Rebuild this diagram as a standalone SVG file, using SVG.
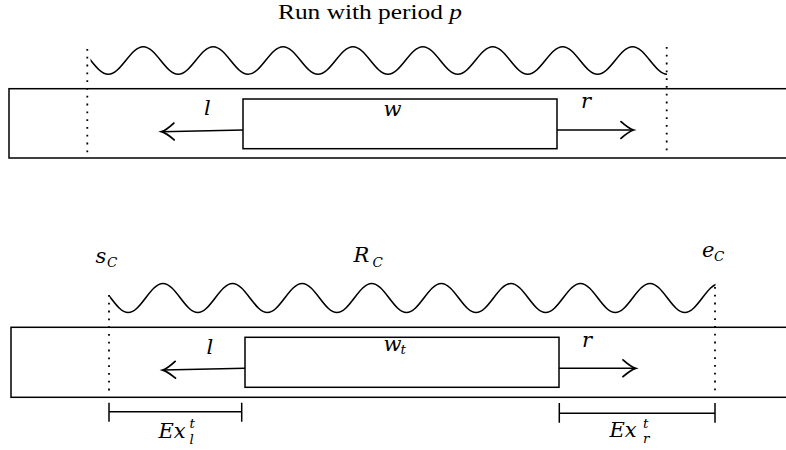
<svg xmlns="http://www.w3.org/2000/svg" width="786" height="450" viewBox="0 0 786 450">
<style>
  .ln{fill:none;stroke:#000;stroke-width:1.5}
  .box{fill:#fff;stroke:#000;stroke-width:1.5}
  .dot{fill:none;stroke:#000;stroke-width:1.8;stroke-dasharray:1.8 6}
  .wave{fill:none;stroke:#000;stroke-width:1.6}
  text{font-family:'Liberation Serif','DejaVu Serif','Times New Roman',serif;fill:#000}
  .t{font-size:20px}
  .m{font-family:'DejaVu Serif','Liberation Serif',serif;font-size:21px;font-style:italic}
  .s{font-family:'DejaVu Serif','Liberation Serif',serif;font-size:13.5px;font-style:italic}
</style>
<defs>
  <marker id="to" markerUnits="userSpaceOnUse" markerWidth="24" markerHeight="24" refX="0" refY="0" viewBox="-14 -10 16 20" orient="auto" overflow="visible">
    <path d="M -10 -7 Q -3.5 -1.2 0.5 0 Q -3.5 1.2 -10 7" fill="none" stroke="#000" stroke-width="1.5" stroke-linecap="round"/>
  </marker>
  <clipPath id="c1"><rect x="90.5" y="30" width="576.5" height="60"/></clipPath>
  <clipPath id="c2"><rect x="109.5" y="270" width="606" height="60"/></clipPath>
</defs>
<rect width="786" height="450" fill="#fff"/>

<text class="t" x="278" y="19" textLength="184" lengthAdjust="spacingAndGlyphs">Run with period <tspan font-style="italic">p</tspan></text>

<g id="top-strip">
  <rect class="box" x="9" y="88.7" width="800" height="69.3"/>
</g>
<g id="top-window">
  <rect class="box" x="243" y="99" width="314" height="49.7"/>
  <text class="m" x="383.5" y="116">w</text>
</g>
<g id="top-run">
  <path class="wave" clip-path="url(#c1)" d="M 73.35 46.7 c 12.7 0 22.25 27.6 34.95 27.6 c 12.7 0 22.25 -27.6 34.95 -27.6 c 12.7 0 22.25 27.6 34.95 27.6 c 12.7 0 22.25 -27.6 34.95 -27.6 c 12.7 0 22.25 27.6 34.95 27.6 c 12.7 0 22.25 -27.6 34.95 -27.6 c 12.7 0 22.25 27.6 34.95 27.6 c 12.7 0 22.25 -27.6 34.95 -27.6 c 12.7 0 22.25 27.6 34.95 27.6 c 12.7 0 22.25 -27.6 34.95 -27.6 c 12.7 0 22.25 27.6 34.95 27.6 c 12.7 0 22.25 -27.6 34.95 -27.6 c 12.7 0 22.25 27.6 34.95 27.6 c 12.7 0 22.25 -27.6 34.95 -27.6 c 12.7 0 22.25 27.6 34.95 27.6 c 12.7 0 22.25 -27.6 34.95 -27.6 c 12.7 0 22.25 27.6 34.95 27.6 c 12.7 0 22.25 -27.6 34.95 -27.6"/>
  <line class="dot" x1="87.3" y1="49" x2="87.3" y2="156"/>
  <line class="dot" x1="666.7" y1="47" x2="666.7" y2="154"/>
</g>

<g id="bottom-strip">
  <rect class="box" x="11" y="327.3" width="800" height="70"/>
</g>
<g id="bottom-window">
  <rect class="box" x="245" y="337.3" width="314" height="50"/>
  <text class="m" x="383.5" y="350.7">w</text>
  <text class="s" x="400.5" y="354">t</text>
</g>
<g id="bottom-run">
  <path class="wave" clip-path="url(#c2)" d="M 93.4 283.5 c 12.64 0 22.15 29 34.79 29 c 12.64 0 22.15 -29 34.79 -29 c 12.64 0 22.15 29 34.79 29 c 12.64 0 22.15 -29 34.79 -29 c 12.64 0 22.15 29 34.79 29 c 12.64 0 22.15 -29 34.79 -29 c 12.64 0 22.15 29 34.79 29 c 12.64 0 22.15 -29 34.79 -29 c 12.64 0 22.15 29 34.79 29 c 12.64 0 22.15 -29 34.79 -29 c 12.64 0 22.15 29 34.79 29 c 12.64 0 22.15 -29 34.79 -29 c 12.64 0 22.15 29 34.79 29 c 12.64 0 22.15 -29 34.79 -29 c 12.64 0 22.15 29 34.79 29 c 12.64 0 22.15 -29 34.79 -29 c 12.64 0 22.15 29 34.79 29 c 12.64 0 22.15 -29 34.79 -29 c 12.64 0 22.15 29 34.79 29"/>
  <line class="dot" x1="109" y1="295" x2="109" y2="394"/>
  <line class="dot" x1="715" y1="287" x2="715" y2="394"/>
</g>

<g id="labels">
  <text class="m" x="95.5" y="262.7">s</text><text class="s" x="107" y="266.5">C</text>
  <text class="m" x="353.5" y="261.7">R</text><text class="s" x="372.5" y="266.5">C</text>
  <text class="m" x="702" y="257">e</text><text class="s" x="714" y="260.5">C</text>
  <text class="m" x="158.5" y="438">Ex</text><text class="s" x="189.5" y="428">t</text><text class="s" x="189.5" y="444">l</text>
  <text class="m" x="609.5" y="437.3">Ex</text><text class="s" x="643" y="427.5">t</text><text class="s" x="643" y="443">r</text>
</g>

<g id="connectors">
  <line class="ln" x1="243" y1="130" x2="162" y2="131.7" marker-end="url(#to)"/>
  <line class="ln" x1="557" y1="130" x2="633" y2="130" marker-end="url(#to)"/>
  <text class="m" x="204" y="115">l</text>
  <text class="m" x="581" y="108.3">r</text>
  <line class="ln" x1="245" y1="368.3" x2="163.3" y2="370" marker-end="url(#to)"/>
  <line class="ln" x1="559" y1="368.3" x2="635" y2="368.3" marker-end="url(#to)"/>
  <text class="m" x="206.5" y="354">l</text>
  <text class="m" x="582" y="347.3">r</text>
  <path class="ln" stroke-width="1.7" d="M 109 411.7 H 241.7 M 109 402.7 V 421.7 M 241.7 402.7 V 421.7"/>
  <path class="ln" stroke-width="1.7" d="M 559.3 413.3 H 715 M 559.3 403 V 422.7 M 715 403 V 422.7"/>
</g>
</svg>
